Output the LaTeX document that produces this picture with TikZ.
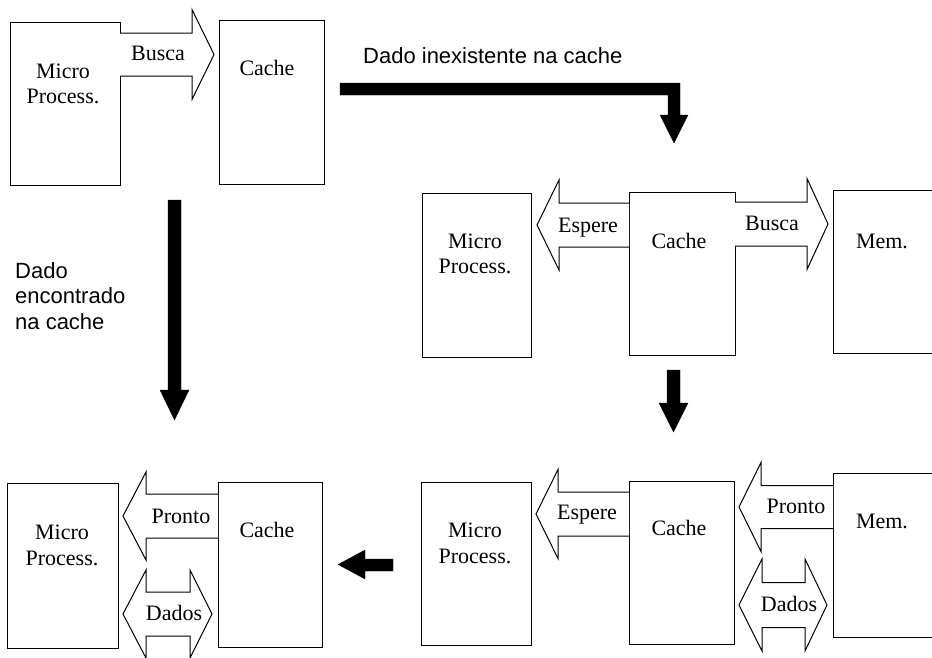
\documentclass[tikz,border=0pt]{standalone}
\usepackage{fontspec}
\setmainfont{Liberation Serif}
\setsansfont{Liberation Sans}
\tikzset{
  box/.style={draw, line width=1pt, inner sep=0pt, outer sep=0pt, anchor=north west},
  lbl/.style={font=\fontsize{22}{25}\selectfont, anchor=base, inner sep=0pt},
  slbl/.style={font=\sffamily\fontsize{22}{25.5}\selectfont, inner sep=0pt, align=left},
  blk/.style={draw, fill=white, line width=1pt, line join=miter},
  solid arrow/.style={fill=black, draw=black, line width=0.3pt}
}
% right-pointing block arrow: start x, base x, tip x, y centre, half shaft, half head
\newcommand\blkR[6]{\draw[blk] (#1,{#4-#5}) -- (#2,{#4-#5}) -- (#2,{#4-#6}) -- (#3,#4) -- (#2,{#4+#6}) -- (#2,{#4+#5}) -- (#1,{#4+#5});}
% left-pointing block arrow: tip x, base x, end x, y centre, half shaft, half head
\newcommand\blkL[6]{\draw[blk] (#3,{#4-#5}) -- (#2,{#4-#5}) -- (#2,{#4-#6}) -- (#1,#4) -- (#2,{#4+#6}) -- (#2,{#4+#5}) -- (#3,{#4+#5});}
% double block arrow: left tip, left base, right base, right tip, y centre, half shaft, half head
\newcommand\blkD[7]{\draw[blk] (#2,{#5-#6}) -- (#3,{#5-#6}) -- (#3,{#5-#7}) -- (#4,#5) -- (#3,{#5+#7}) -- (#3,{#5+#6}) -- (#2,{#5+#6}) -- (#2,{#5+#7}) -- (#1,#5) -- (#2,{#5-#7}) -- cycle;}
\begin{document}
\begin{tikzpicture}[x=1pt,y=-1pt]
\useasboundingbox (0,0) rectangle (932,657);
\clip (0,0) rectangle (932,657);

% ---------- top left ----------
\node[box, minimum width=110pt, minimum height=163pt] (mpA) at (10,22) {};
\node[box, minimum width=105pt, minimum height=164pt] (cA) at (219,20) {};
\blkR{120}{192}{214}{54.5}{21.5}{45}
\node[lbl] (mpAt1) at (63,78) {Micro};
\node[lbl] (mpAt2) at (63,103) {Process.};
\node[lbl] (bA) at (158,60) {Busca};
\node[lbl] (cAt) at (267,75) {Cache};

% ---------- middle right ----------
\node[box, minimum width=109pt, minimum height=164pt] (mpB) at (422,193) {};
\node[box, minimum width=106pt, minimum height=163pt] (cB) at (629,192) {};
\node[box, minimum width=120pt, minimum height=163pt] (memB) at (833,190) {};
\blkL{537}{559}{629}{225}{22}{45}
\blkR{735}{807}{828}{224}{22}{45.5}
\node[lbl] (mpBt1) at (475,248) {Micro};
\node[lbl] (mpBt2) at (475,273) {Process.};
\node[lbl] (eB) at (588,232) {Espere};
\node[lbl] (cBt) at (679,248) {Cache};
\node[lbl] (bB) at (772,230) {Busca};
\node[lbl] (memBt) at (882,248) {Mem.};

% ---------- bottom left ----------
\node[box, minimum width=111pt, minimum height=165pt] (mpC) at (7,483) {};
\node[box, minimum width=104pt, minimum height=165pt] (cC) at (218,482) {};
\blkL{123}{146}{218}{516}{22}{44}
\blkD{123}{146}{190}{212}{614}{22}{44}
\node[lbl] (mpCt1) at (62,539) {Micro};
\node[lbl] (mpCt2) at (62,565) {Process.};
\node[lbl] (pC) at (181,523) {Pronto};
\node[lbl] (cCt) at (267,537) {Cache};
\node[lbl] (dC) at (174,620) {Dados};

% ---------- bottom right ----------
\node[box, minimum width=110pt, minimum height=163pt] (mpD) at (421,482) {};
\node[box, minimum width=105pt, minimum height=163pt] (cD) at (629,481) {};
\node[box, minimum width=120pt, minimum height=164pt] (memD) at (833,473) {};
\blkL{536}{558}{629}{514}{22}{44.5}
\blkL{739}{761}{833}{507}{21.5}{44.5}
\blkD{739}{762}{805}{827}{605}{22.5}{46}
\node[lbl] (mpDt1) at (475,537) {Micro};
\node[lbl] (mpDt2) at (475,563) {Process.};
\node[lbl] (eD) at (587,519) {Espere};
\node[lbl] (cDt) at (679,535) {Cache};
\node[lbl] (pD) at (796,513) {Pronto};
\node[lbl] (memDt) at (882,528) {Mem.};
\node[lbl] (dD) at (789,611) {Dados};

% ---------- solid flow arrows ----------
\fill[solid arrow] (340,83) -- (680,83) -- (680,115) -- (688,115) -- (674,143) -- (660,115) -- (668,115) -- (668,95) -- (340,95) -- cycle;
\fill[solid arrow] (168,200) -- (181,200) -- (181,390) -- (189,390) -- (174.5,420) -- (160,390) -- (168,390) -- cycle;
\fill[solid arrow] (667,370) -- (680,370) -- (680,403) -- (688,403) -- (673.5,432) -- (659,403) -- (667,403) -- cycle;
\fill[solid arrow] (393,559) -- (365,559) -- (365,550) -- (338,564.5) -- (365,579) -- (365,571) -- (393,571) -- cycle;

% ---------- captions ----------
\node[slbl, anchor=base west] (capTop) at (363,63) {Dado inexistente na cache};
\node[slbl, anchor=north west] (capLeft) at (15,262) {Dado\\encontrado\\na cache};
\end{tikzpicture}
\end{document}
